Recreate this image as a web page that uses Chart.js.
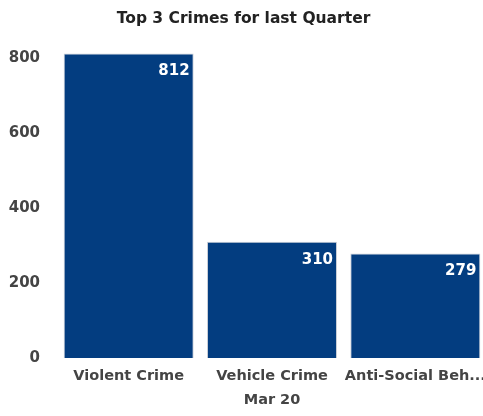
<!DOCTYPE html>
<html>
<head>
<meta charset="utf-8">
<script src="https://cdn.jsdelivr.net/npm/chart.js@4"></script>
<style>
  html, body { margin: 0; padding: 0; background: #fff; overflow: hidden; }
  #wrap { width: 483px; height: 416px; overflow: hidden; }
</style>
</head>
<body>
<div id="wrap"><canvas id="chart" width="487" height="416"></canvas></div>
<script>
const categories = ["Violent Crime", "Vehicle Crime", "Anti-Social Beh..."];
const crimeCounts = [812, 310, 279];
const yTicks = [0, 200, 400, 600, 800];
const periodLabel = "Mar 20";

const FONT = "'DejaVu Sans', Verdana, sans-serif";

// white value labels in the top right corner of each bar
const valueLabels = {
  id: "valueLabels",
  afterDatasetsDraw(chart) {
    const ctx = chart.ctx;
    const meta = chart.getDatasetMeta(0);
    ctx.save();
    ctx.font = "bold 15px " + FONT;
    ctx.fillStyle = "#ffffff";
    ctx.textAlign = "right";
    ctx.textBaseline = "middle";
    meta.data.forEach((bar, i) => {
      const right = Math.min(bar.x + bar.width / 2, 483) - 4;
      ctx.fillText(String(crimeCounts[i]), right, bar.y + 18);
    });
    ctx.restore();
  },
};

new Chart(document.getElementById("chart"), {
  type: "bar",
  data: {
    labels: categories,
    datasets: [
      {
        data: crimeCounts,
        backgroundColor: "#033d80",
        borderColor: "#c9ced6",
        borderWidth: 1,
        barPercentage: 0.907,
        categoryPercentage: 1.0,
      },
    ],
  },
  options: {
    responsive: false,
    animation: false,
    layout: { padding: { left: 0, right: 0, top: 0, bottom: 7 } },
    plugins: {
      legend: { display: false },
      tooltip: { enabled: false },
      title: {
        display: true,
        text: "Top 3 Crimes for last Quarter",
        color: "#222",
        font: { family: FONT, size: 15.5, weight: "bold" },
        padding: { top: 10, bottom: 22 },
      },
    },
    scales: {
      x: {
        grid: { display: false, drawTicks: false },
        border: { display: false },
        afterFit(scale) {
          // let the end labels run to the canvas edge
          scale.paddingLeft = 0;
          scale.paddingRight = 0;
          scale.height = 51;
        },
        ticks: {
          color: "#444",
          padding: 10,
          maxRotation: 0,
          autoSkip: false,
          font: { family: FONT, size: 14.5, weight: "bold" },
        },
        title: {
          display: true,
          text: periodLabel,
          color: "#444",
          padding: { top: 5, bottom: 0 },
          font: { family: FONT, size: 14.5, weight: "bold" },
        },
      },
      y: {
        min: 0,
        max: 820,
        grid: { display: false, drawTicks: false },
        border: { display: false },
        afterFit(scale) {
          scale.width = 57;
          scale.paddingTop = 0;
          scale.paddingBottom = 0;
        },
        afterBuildTicks(scale) {
          scale.ticks = yTicks.map((v) => ({ value: v }));
        },
        ticks: {
          color: "#444",
          padding: 17,
          font: { family: FONT, size: 15, weight: "bold" },
        },
      },
    },
  },
  plugins: [valueLabels],
});
</script>
</body>
</html>
